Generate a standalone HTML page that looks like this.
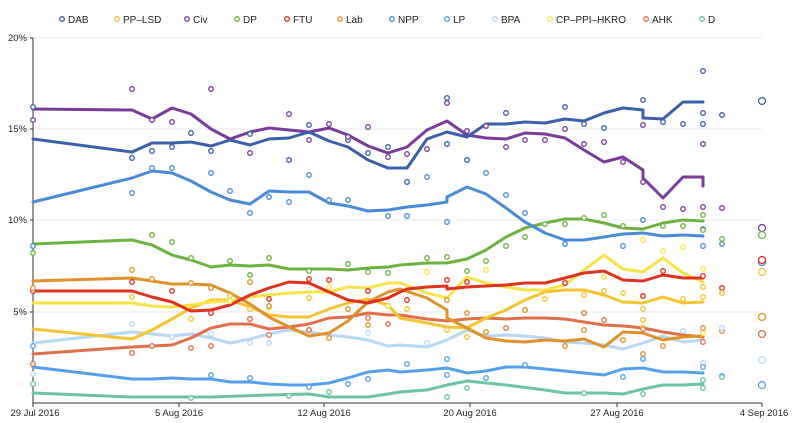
<!DOCTYPE html>
<html><head><meta charset="utf-8"><style>
html,body{margin:0;padding:0;background:#fff;}
svg{display:block;font-family:"Liberation Sans",Arial,sans-serif;}
</style></head><body>
<svg width="800" height="423" viewBox="0 0 800 423" xmlns="http://www.w3.org/2000/svg">
<g font-size="10" fill="#222">
<g stroke-width="1.3" fill="#fff">
<circle cx="62" cy="19" r="2.3" stroke="#3a5fad"/><circle cx="117" cy="19" r="2.3" stroke="#f4c530"/><circle cx="187" cy="19" r="2.3" stroke="#7a3b9c"/><circle cx="237" cy="19" r="2.3" stroke="#6db33f"/><circle cx="287" cy="19" r="2.3" stroke="#e0301e"/><circle cx="340" cy="19" r="2.3" stroke="#e0922a"/><circle cx="392" cy="19" r="2.3" stroke="#4a8ad8"/><circle cx="447" cy="19" r="2.3" stroke="#55a0ec"/><circle cx="495" cy="19" r="2.3" stroke="#b8d8f8"/><circle cx="550" cy="19" r="2.3" stroke="#f8e44a"/><circle cx="646" cy="19" r="2.3" stroke="#e0704a"/><circle cx="702" cy="19" r="2.3" stroke="#6cc4a4"/>
</g>
<text x="68" y="23">DAB</text><text x="123" y="23">PP–LSD</text><text x="193" y="23">Civ</text><text x="243" y="23">DP</text><text x="293" y="23">FTU</text><text x="346" y="23">Lab</text><text x="398" y="23">NPP</text><text x="453" y="23">LP</text><text x="501" y="23">BPA</text><text x="556" y="23">CP–PPI–HKRO</text><text x="652" y="23">AHK</text><text x="708" y="23">D</text>
</g>
<g stroke="#e8e8e8" stroke-width="1">
<line x1="34" y1="38" x2="762" y2="38"/><line x1="34" y1="129" x2="762" y2="129"/><line x1="34" y1="220" x2="762" y2="220"/><line x1="34" y1="312" x2="762" y2="312"/>
</g>
<g font-size="9.5" fill="#222" text-anchor="end">
<text x="27" y="41">20%</text><text x="27" y="132">15%</text><text x="27" y="223">10%</text><text x="27" y="315">5%</text>
</g>
<g stroke="#333" stroke-width="1" fill="none">
<line x1="33" y1="38" x2="33" y2="403"/><line x1="30" y1="38" x2="33" y2="38"/><line x1="30" y1="129" x2="33" y2="129"/><line x1="30" y1="220" x2="33" y2="220"/><line x1="30" y1="312" x2="33" y2="312"/>
<line x1="33" y1="403" x2="762" y2="403"/>
<line x1="33" y1="403" x2="33" y2="407"/><line x1="179" y1="403" x2="179" y2="407"/><line x1="324" y1="403" x2="324" y2="407"/><line x1="470" y1="403" x2="470" y2="407"/><line x1="617" y1="403" x2="617" y2="407"/><line x1="762" y1="403" x2="762" y2="407"/>
</g>
<g font-size="9.5" fill="#222" text-anchor="middle">
<text x="35" y="416">29 Jul 2016</text><text x="179" y="416">5 Aug 2016</text><text x="324" y="416">12 Aug 2016</text><text x="470" y="416">20 Aug 2016</text><text x="617" y="416">27 Aug 2016</text><text x="764" y="416">4 Sep 2016</text>
</g>
<g fill="none" stroke-width="3" stroke-linejoin="round" stroke-linecap="round" id="lines">
<polyline stroke="#6cc4a4" points="33,393 132,397 172,397 211,397 269,395 309,394 329,397 368,397 388,394 400,392 427,390 447,385 467,381 506,385 545,390 565,393 584,393 604,393 623,394 643,389 663,385 683,385 703,384"/>
<polyline stroke="#55a0ec" points="33,367 132,379 152,379 172,378 191,379 211,379 230,382 250,382 269,384 289,385 309,385 329,383 348,378 368,372 388,370 400,372 427,370 447,368 467,373 486,371 506,367 525,367 545,369 565,371 584,373 604,375 623,369 643,368 663,372 683,372 703,373"/>
<polyline stroke="#b8d8f8" points="33,343 132,332 152,334 172,336 191,334 211,338 230,343 250,339 269,334 289,330 309,332 329,335 348,337 368,340 388,346 400,345 427,347 447,340 467,330 486,336 506,335 525,336 545,338 565,342 584,343 604,345 623,349 643,343 663,336 683,342 703,340"/>
<polyline stroke="#e0704a" points="33,354 132,347 152,346 172,345 191,338 211,328 230,324 250,324 269,329 289,327 309,324 329,318 348,317 368,313 388,315 400,315 427,319 447,321 467,319 486,318 506,319 525,318 545,318 565,319 584,322 604,325 623,326 643,328 663,332 683,335 703,337"/>
<polyline stroke="#f4c530" points="33,329 132,339 152,330 172,319 191,308 211,300 230,300 250,307 269,315 289,317 309,317 329,309 348,303 368,299 388,305 400,318 427,323 447,327 467,328 486,318 506,310 525,300 545,292 565,290 584,290 604,295 623,302 643,303 663,297 683,303 703,302"/>
<polyline stroke="#f8e44a" points="33,303 132,303 152,306 172,307 191,305 211,302 230,301 250,297 269,295 289,293 309,292 329,292 348,287 368,288 388,283 400,283 427,293 447,298 467,277 486,283 506,287 525,290 545,290 565,285 584,270 604,255 623,269 643,272 663,258 683,273 703,282"/>
<polyline stroke="#e0922a" points="33,281 132,278 152,281 172,284 191,284 211,285 230,293 250,304 269,317 289,327 309,336 329,333 348,321 368,302 388,292 400,289 427,298 447,310 447,318 467,328 486,338 506,341 525,342 545,340 565,341 584,339 604,347 623,332 643,333 663,340 683,337 703,336"/>
<polyline stroke="#e0301e" points="33,291 132,291 152,297 172,302 191,311 211,310 230,305 250,295 269,288 289,282 309,283 329,292 348,300 368,303 388,298 400,292 407,289 427,287 447,286 447,289 467,287 486,286 506,285 525,283 545,283 565,278 584,273 604,271 623,280 643,281 663,275 683,278 703,278"/>
<polyline stroke="#6db33f" points="33,244 132,240 152,245 172,255 191,260 211,267 230,265 250,266 269,265 289,269 309,269 329,269 348,270 368,268 388,267 400,265 427,263 447,263 467,259 486,250 506,237 525,228 545,223 565,219 584,219 604,223 623,228 643,229 663,223 683,220 703,221"/>
<polyline stroke="#4a8ad8" points="33,202 132,178 152,171 172,173 191,181 211,192 230,200 250,204 269,191 289,192 309,192 329,203 348,206 368,211 388,210 407,207 427,205 447,202 447,197 467,187 486,194 506,208 525,222 545,233 565,240 584,240 604,237 623,234 643,233 663,236 683,235 703,236"/>
<polyline stroke="#7a3b9c" points="33,109 132,110 152,119 172,108 191,114 211,129 230,139 250,132 269,128 289,130 309,132 329,128 348,135 368,146 388,153 407,147 427,130 447,121 467,135 486,138 506,139 525,133 545,134 565,138 584,150 604,162 623,157 643,170 643,178 663,198 683,177 703,177 703,186"/>
<polyline stroke="#3a5fad" points="33,139 132,152 152,143 172,143 191,142 211,146 230,140 250,145 269,139 289,138 309,132 329,141 348,147 368,160 388,168 407,168 427,139 447,132 467,137 486,124 506,124 525,122 545,123 565,119 584,121 604,113 623,108 643,110 643,118 663,119 683,102 703,102"/>
</g>
<g fill="#fff" stroke-width="1.3">
<g stroke="#3a5fad"><circle cx="33" cy="107" r="2.3"/><circle cx="132" cy="158" r="2.3"/><circle cx="152" cy="151" r="2.3"/><circle cx="172" cy="147" r="2.3"/><circle cx="191" cy="133" r="2.3"/><circle cx="211" cy="151" r="2.3"/><circle cx="250" cy="134" r="2.3"/><circle cx="289" cy="160" r="2.3"/><circle cx="309" cy="125" r="2.3"/><circle cx="348" cy="140" r="2.3"/><circle cx="368" cy="153" r="2.3"/><circle cx="388" cy="147" r="2.3"/><circle cx="407" cy="182" r="2.3"/><circle cx="447" cy="98" r="2.3"/><circle cx="447" cy="144" r="2.3"/><circle cx="467" cy="160" r="2.3"/><circle cx="506" cy="113" r="2.3"/><circle cx="565" cy="107" r="2.3"/><circle cx="584" cy="124" r="2.3"/><circle cx="604" cy="128" r="2.3"/><circle cx="643" cy="100" r="2.3"/><circle cx="663" cy="122" r="2.3"/><circle cx="683" cy="124" r="2.3"/><circle cx="703" cy="71" r="2.3"/><circle cx="703" cy="113" r="2.3"/><circle cx="703" cy="124" r="2.3"/><circle cx="722" cy="115" r="2.3"/><circle cx="762" cy="101" r="3.5"/></g>
<g stroke="#7a3b9c"><circle cx="33" cy="120" r="2.3"/><circle cx="132" cy="89" r="2.3"/><circle cx="152" cy="120" r="2.3"/><circle cx="172" cy="122" r="2.3"/><circle cx="211" cy="89" r="2.3"/><circle cx="250" cy="153" r="2.3"/><circle cx="289" cy="114" r="2.3"/><circle cx="309" cy="140" r="2.3"/><circle cx="329" cy="124" r="2.3"/><circle cx="348" cy="137" r="2.3"/><circle cx="368" cy="127" r="2.3"/><circle cx="388" cy="157" r="2.3"/><circle cx="407" cy="154" r="2.3"/><circle cx="427" cy="149" r="2.3"/><circle cx="447" cy="103" r="2.3"/><circle cx="467" cy="131" r="2.3"/><circle cx="486" cy="126" r="2.3"/><circle cx="506" cy="147" r="2.3"/><circle cx="525" cy="140" r="2.3"/><circle cx="545" cy="140" r="2.3"/><circle cx="565" cy="129" r="2.3"/><circle cx="584" cy="144" r="2.3"/><circle cx="604" cy="142" r="2.3"/><circle cx="623" cy="162" r="2.3"/><circle cx="643" cy="182" r="2.3"/><circle cx="643" cy="125" r="2.3"/><circle cx="663" cy="207" r="2.3"/><circle cx="683" cy="209" r="2.3"/><circle cx="703" cy="144" r="2.3"/><circle cx="703" cy="207" r="2.3"/><circle cx="722" cy="208" r="2.3"/><circle cx="762" cy="228" r="3.5"/></g>
<g stroke="#4a8ad8"><circle cx="33" cy="246" r="2.3"/><circle cx="132" cy="193" r="2.3"/><circle cx="152" cy="168" r="2.3"/><circle cx="172" cy="168" r="2.3"/><circle cx="211" cy="173" r="2.3"/><circle cx="230" cy="191" r="2.3"/><circle cx="250" cy="213" r="2.3"/><circle cx="269" cy="197" r="2.3"/><circle cx="289" cy="202" r="2.3"/><circle cx="309" cy="175" r="2.3"/><circle cx="329" cy="200" r="2.3"/><circle cx="348" cy="200" r="2.3"/><circle cx="388" cy="216" r="2.3"/><circle cx="407" cy="216" r="2.3"/><circle cx="427" cy="177" r="2.3"/><circle cx="447" cy="222" r="2.3"/><circle cx="486" cy="173" r="2.3"/><circle cx="506" cy="195" r="2.3"/><circle cx="525" cy="213" r="2.3"/><circle cx="565" cy="244" r="2.3"/><circle cx="623" cy="246" r="2.3"/><circle cx="643" cy="220" r="2.3"/><circle cx="703" cy="229" r="2.3"/><circle cx="703" cy="246" r="2.3"/><circle cx="722" cy="244" r="2.3"/><circle cx="762" cy="262" r="3.5"/></g>
<g stroke="#6db33f"><circle cx="33" cy="253" r="2.3"/><circle cx="152" cy="235" r="2.3"/><circle cx="172" cy="242" r="2.3"/><circle cx="191" cy="258" r="2.3"/><circle cx="230" cy="261" r="2.3"/><circle cx="250" cy="275" r="2.3"/><circle cx="269" cy="258" r="2.3"/><circle cx="309" cy="271" r="2.3"/><circle cx="348" cy="264" r="2.3"/><circle cx="368" cy="272" r="2.3"/><circle cx="388" cy="273" r="2.3"/><circle cx="427" cy="258" r="2.3"/><circle cx="447" cy="257" r="2.3"/><circle cx="467" cy="271" r="2.3"/><circle cx="486" cy="261" r="2.3"/><circle cx="506" cy="246" r="2.3"/><circle cx="525" cy="237" r="2.3"/><circle cx="545" cy="224" r="2.3"/><circle cx="565" cy="224" r="2.3"/><circle cx="584" cy="218" r="2.3"/><circle cx="604" cy="215" r="2.3"/><circle cx="623" cy="226" r="2.3"/><circle cx="663" cy="226" r="2.3"/><circle cx="683" cy="226" r="2.3"/><circle cx="703" cy="215" r="2.3"/><circle cx="703" cy="230" r="2.3"/><circle cx="722" cy="239" r="2.3"/><circle cx="762" cy="235" r="3.5"/></g>
<g stroke="#e0301e"><circle cx="33" cy="291" r="2.3"/><circle cx="132" cy="282" r="2.3"/><circle cx="172" cy="291" r="2.3"/><circle cx="211" cy="313" r="2.3"/><circle cx="250" cy="319" r="2.3"/><circle cx="269" cy="299" r="2.3"/><circle cx="309" cy="279" r="2.3"/><circle cx="329" cy="280" r="2.3"/><circle cx="368" cy="291" r="2.3"/><circle cx="388" cy="306" r="2.3"/><circle cx="407" cy="300" r="2.3"/><circle cx="447" cy="280" r="2.3"/><circle cx="467" cy="282" r="2.3"/><circle cx="565" cy="283" r="2.3"/><circle cx="643" cy="296" r="2.3"/><circle cx="663" cy="271" r="2.3"/><circle cx="703" cy="276" r="2.3"/><circle cx="722" cy="288" r="2.3"/><circle cx="762" cy="260" r="3.5"/></g>
<g stroke="#f4c530"><circle cx="132" cy="297" r="2.3"/><circle cx="191" cy="319" r="2.3"/><circle cx="230" cy="296" r="2.3"/><circle cx="250" cy="309" r="2.3"/><circle cx="269" cy="306" r="2.3"/><circle cx="309" cy="298" r="2.3"/><circle cx="388" cy="306" r="2.3"/><circle cx="407" cy="309" r="2.3"/><circle cx="447" cy="330" r="2.3"/><circle cx="467" cy="337" r="2.3"/><circle cx="525" cy="310" r="2.3"/><circle cx="545" cy="299" r="2.3"/><circle cx="584" cy="295" r="2.3"/><circle cx="604" cy="291" r="2.3"/><circle cx="623" cy="293" r="2.3"/><circle cx="643" cy="309" r="2.3"/><circle cx="643" cy="320" r="2.3"/><circle cx="683" cy="299" r="2.3"/><circle cx="703" cy="287" r="2.3"/><circle cx="703" cy="297" r="2.3"/><circle cx="722" cy="293" r="2.3"/><circle cx="762" cy="272" r="3.5"/></g>
<g stroke="#f8e44a"><circle cx="230" cy="301" r="2.3"/><circle cx="269" cy="308" r="2.3"/><circle cx="329" cy="287" r="2.3"/><circle cx="388" cy="306" r="2.3"/><circle cx="427" cy="272" r="2.3"/><circle cx="486" cy="270" r="2.3"/><circle cx="604" cy="277" r="2.3"/><circle cx="663" cy="251" r="2.3"/><circle cx="643" cy="240" r="2.3"/><circle cx="703" cy="269" r="2.3"/><circle cx="703" cy="333" r="2.3"/><circle cx="683" cy="247" r="2.3"/><circle cx="643" cy="327" r="2.3"/></g>
<g stroke="#e0922a"><circle cx="33" cy="288" r="2.3"/><circle cx="132" cy="270" r="2.3"/><circle cx="152" cy="279" r="2.3"/><circle cx="191" cy="283" r="2.3"/><circle cx="211" cy="288" r="2.3"/><circle cx="250" cy="282" r="2.3"/><circle cx="269" cy="306" r="2.3"/><circle cx="309" cy="330" r="2.3"/><circle cx="329" cy="338" r="2.3"/><circle cx="348" cy="309" r="2.3"/><circle cx="368" cy="325" r="2.3"/><circle cx="447" cy="300" r="2.3"/><circle cx="467" cy="313" r="2.3"/><circle cx="486" cy="332" r="2.3"/><circle cx="525" cy="310" r="2.3"/><circle cx="565" cy="346" r="2.3"/><circle cx="584" cy="330" r="2.3"/><circle cx="623" cy="340" r="2.3"/><circle cx="643" cy="354" r="2.3"/><circle cx="663" cy="346" r="2.3"/><circle cx="703" cy="328" r="2.3"/><circle cx="722" cy="331" r="2.3"/><circle cx="762" cy="317" r="3.5"/></g>
<g stroke="#e0704a"><circle cx="33" cy="364" r="2.3"/><circle cx="132" cy="353" r="2.3"/><circle cx="152" cy="346" r="2.3"/><circle cx="191" cy="348" r="2.3"/><circle cx="211" cy="346" r="2.3"/><circle cx="250" cy="319" r="2.3"/><circle cx="269" cy="335" r="2.3"/><circle cx="309" cy="330" r="2.3"/><circle cx="368" cy="318" r="2.3"/><circle cx="388" cy="324" r="2.3"/><circle cx="506" cy="328" r="2.3"/><circle cx="584" cy="313" r="2.3"/><circle cx="604" cy="320" r="2.3"/><circle cx="643" cy="329" r="2.3"/><circle cx="703" cy="342" r="2.3"/><circle cx="762" cy="334" r="3.5"/></g>
<g stroke="#b8d8f8"><circle cx="33" cy="374" r="2.3"/><circle cx="132" cy="324" r="2.3"/><circle cx="172" cy="337" r="2.3"/><circle cx="211" cy="334" r="2.3"/><circle cx="250" cy="343" r="2.3"/><circle cx="269" cy="343" r="2.3"/><circle cx="368" cy="333" r="2.3"/><circle cx="427" cy="343" r="2.3"/><circle cx="683" cy="331" r="2.3"/><circle cx="703" cy="363" r="2.3"/><circle cx="722" cy="328" r="2.3"/><circle cx="762" cy="360" r="3.5"/></g>
<g stroke="#55a0ec"><circle cx="33" cy="346" r="2.3"/><circle cx="211" cy="375" r="2.3"/><circle cx="250" cy="378" r="2.3"/><circle cx="309" cy="387" r="2.3"/><circle cx="348" cy="384" r="2.3"/><circle cx="368" cy="379" r="2.3"/><circle cx="407" cy="364" r="2.3"/><circle cx="447" cy="359" r="2.3"/><circle cx="447" cy="375" r="2.3"/><circle cx="486" cy="378" r="2.3"/><circle cx="525" cy="365" r="2.3"/><circle cx="623" cy="377" r="2.3"/><circle cx="643" cy="359" r="2.3"/><circle cx="703" cy="367" r="2.3"/><circle cx="722" cy="376" r="2.3"/><circle cx="762" cy="385" r="3.5"/></g>
<g stroke="#6cc4a4"><circle cx="33" cy="384" r="2.3"/><circle cx="191" cy="398" r="2.3"/><circle cx="289" cy="396" r="2.3"/><circle cx="329" cy="392" r="2.3"/><circle cx="447" cy="397" r="2.3"/><circle cx="467" cy="388" r="2.3"/><circle cx="584" cy="393" r="2.3"/><circle cx="643" cy="394" r="2.3"/><circle cx="703" cy="380" r="2.3"/><circle cx="703" cy="388" r="2.3"/><circle cx="722" cy="377" r="2.3"/></g>
</g>
</svg>
</body></html>
